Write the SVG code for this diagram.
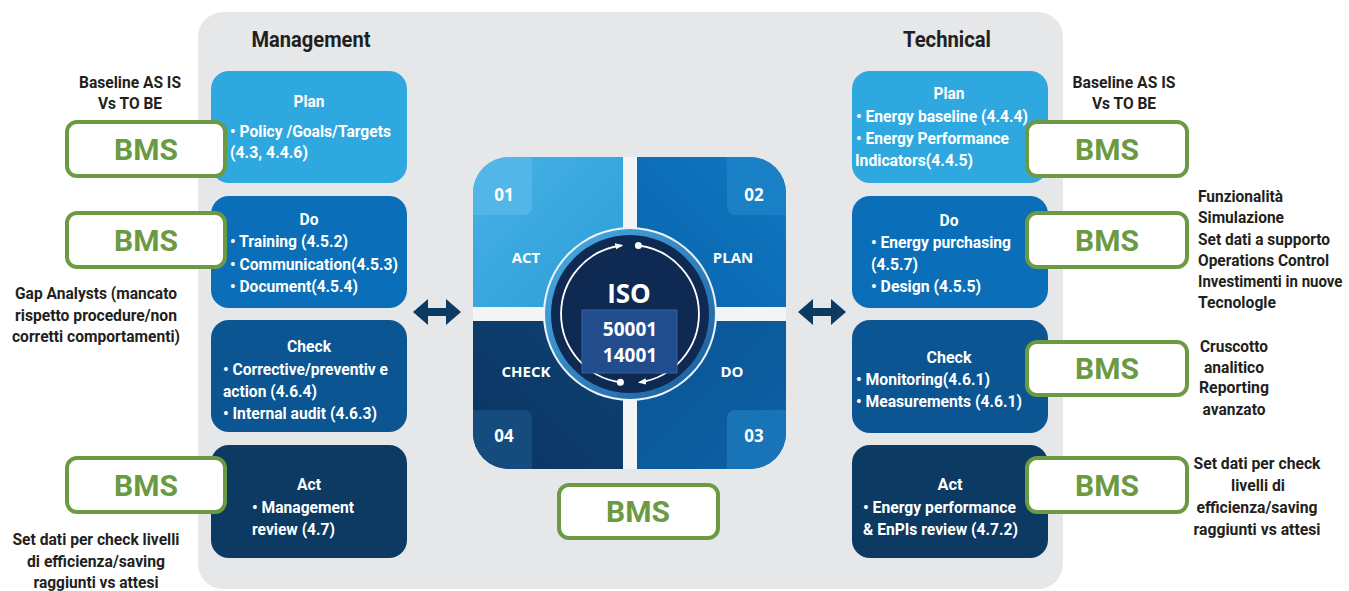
<svg xmlns="http://www.w3.org/2000/svg" width="1349" height="591" viewBox="0 0 1349 591">
  <style>
    text { font-family: Roboto, "Liberation Sans", sans-serif; font-weight: 700; }
    .box-title { font-size: 17px; fill: #ffffff; text-anchor: middle; }
    .box-line { font-size: 17px; fill: #ffffff; }
    .heading { font-size: 22px; fill: #231f20; text-anchor: middle; }
    .note { font-size: 16px; fill: #231f20; }
    .note-c { font-size: 16px; fill: #231f20; text-anchor: middle; }
    .bms-frame { fill: #ffffff; stroke: #6b9a42; stroke-width: 4; }
    .bms-label { font-size: 30px; fill: #6b9a42; text-anchor: middle; }
    .cyc { font-family: "Open Sans", "Liberation Sans", sans-serif; font-weight: 700; fill: #ffffff; text-anchor: middle; }
    .link { fill: #0d3a60; }
  </style>
  <defs>
    <clipPath id="cycleClip">
      <rect x="473" y="157" width="313" height="312" rx="36"/>
    </clipPath>
    <linearGradient id="gAct" x1="0" y1="0" x2="1" y2="1">
      <stop offset="0" stop-color="#47b1e4"/>
      <stop offset="1" stop-color="#2a9dd8"/>
    </linearGradient>
    <linearGradient id="gPlan" x1="1" y1="0" x2="0" y2="1">
      <stop offset="0" stop-color="#1079c2"/>
      <stop offset="1" stop-color="#0862ab"/>
    </linearGradient>
    <linearGradient id="gCheck" x1="0" y1="1" x2="1" y2="0">
      <stop offset="0" stop-color="#0b3563"/>
      <stop offset="1" stop-color="#0e4273"/>
    </linearGradient>
    <linearGradient id="gDo" x1="1" y1="1" x2="0" y2="0">
      <stop offset="0" stop-color="#0c62a6"/>
      <stop offset="1" stop-color="#0a5393"/>
    </linearGradient>
    <linearGradient id="gRing" x1="0" y1="0" x2="1" y2="1">
      <stop offset="0" stop-color="#4cb0e6"/>
      <stop offset="1" stop-color="#16599b"/>
    </linearGradient>
    <marker id="tip" viewBox="0 0 10 10" refX="8" refY="5" markerWidth="8" markerHeight="8" markerUnits="userSpaceOnUse" orient="auto">
      <path d="M0,1 L10,5 L0,9 z" fill="#ffffff"/>
    </marker>
  </defs>

  <!-- background panel -->
  <rect x="198" y="12" width="865" height="577" rx="25" fill="#e6e7e9"/>

  <!-- column headings -->
  <text class="heading" x="311" y="47" textLength="119" lengthAdjust="spacingAndGlyphs">Management</text>
  <text class="heading" x="947" y="47" textLength="88" lengthAdjust="spacingAndGlyphs">Technical</text>

  <!-- management column -->
  <g id="mgmt-plan">
    <rect x="211" y="71" width="196" height="112" rx="18" fill="#2fa8df"/>
    <text class="box-title" x="309" y="107" textLength="31" lengthAdjust="spacingAndGlyphs">Plan</text>
    <text class="box-line" x="230" y="137" textLength="161" lengthAdjust="spacingAndGlyphs">• Policy /Goals/Targets</text>
    <text class="box-line" x="230" y="158" textLength="78" lengthAdjust="spacingAndGlyphs">(4.3, 4.4.6)</text>
  </g>
  <g id="mgmt-do">
    <rect x="211" y="196" width="196" height="112" rx="18" fill="#0a6fb8"/>
    <text class="box-title" x="309" y="225" textLength="19" lengthAdjust="spacingAndGlyphs">Do</text>
    <text class="box-line" x="230" y="247" textLength="118" lengthAdjust="spacingAndGlyphs">• Training (4.5.2)</text>
    <text class="box-line" x="230" y="270" textLength="168" lengthAdjust="spacingAndGlyphs">• Communication(4.5.3)</text>
    <text class="box-line" x="230" y="292" textLength="128" lengthAdjust="spacingAndGlyphs">• Document(4.5.4)</text>
  </g>
  <g id="mgmt-check">
    <rect x="211" y="320" width="196" height="112" rx="18" fill="#0a5592"/>
    <text class="box-title" x="309" y="352" textLength="44" lengthAdjust="spacingAndGlyphs">Check</text>
    <text class="box-line" x="223" y="375" textLength="165" lengthAdjust="spacingAndGlyphs">• Corrective/preventiv e</text>
    <text class="box-line" x="223" y="397" textLength="94" lengthAdjust="spacingAndGlyphs">action (4.6.4)</text>
    <text class="box-line" x="223" y="419" textLength="154" lengthAdjust="spacingAndGlyphs">• Internal audit (4.6.3)</text>
  </g>
  <g id="mgmt-act">
    <rect x="211" y="445" width="196" height="113" rx="18" fill="#0c3a62"/>
    <text class="box-title" x="309" y="490" textLength="24" lengthAdjust="spacingAndGlyphs">Act</text>
    <text class="box-line" x="252" y="513" textLength="102" lengthAdjust="spacingAndGlyphs">• Management</text>
    <text class="box-line" x="252" y="535" textLength="83" lengthAdjust="spacingAndGlyphs">review (4.7)</text>
  </g>

  <!-- technical column -->
  <g id="tech-plan">
    <rect x="852" y="71" width="196" height="112" rx="18" fill="#2fa8df"/>
    <text class="box-title" x="949" y="99" textLength="31" lengthAdjust="spacingAndGlyphs">Plan</text>
    <text class="box-line" x="856" y="122" textLength="172" lengthAdjust="spacingAndGlyphs">• Energy baseline (4.4.4)</text>
    <text class="box-line" x="856" y="144" textLength="153" lengthAdjust="spacingAndGlyphs">• Energy Performance</text>
    <text class="box-line" x="855" y="166" textLength="118" lengthAdjust="spacingAndGlyphs">Indicators(4.4.5)</text>
  </g>
  <g id="tech-do">
    <rect x="852" y="196" width="196" height="112" rx="18" fill="#0a6fb8"/>
    <text class="box-title" x="949" y="226" textLength="19" lengthAdjust="spacingAndGlyphs">Do</text>
    <text class="box-line" x="871" y="248" textLength="140" lengthAdjust="spacingAndGlyphs">• Energy purchasing</text>
    <text class="box-line" x="871" y="270" textLength="47" lengthAdjust="spacingAndGlyphs">(4.5.7)</text>
    <text class="box-line" x="871" y="292" textLength="110" lengthAdjust="spacingAndGlyphs">• Design (4.5.5)</text>
  </g>
  <g id="tech-check">
    <rect x="852" y="320" width="196" height="113" rx="18" fill="#0a5592"/>
    <text class="box-title" x="949" y="363" textLength="45" lengthAdjust="spacingAndGlyphs">Check</text>
    <text class="box-line" x="856" y="385" textLength="134" lengthAdjust="spacingAndGlyphs">• Monitoring(4.6.1)</text>
    <text class="box-line" x="856" y="407" textLength="166" lengthAdjust="spacingAndGlyphs">• Measurements (4.6.1)</text>
  </g>
  <g id="tech-act">
    <rect x="852" y="445" width="196" height="113" rx="18" fill="#0c3a62"/>
    <text class="box-title" x="950" y="490" textLength="25" lengthAdjust="spacingAndGlyphs">Act</text>
    <text class="box-line" x="863" y="513" textLength="153" lengthAdjust="spacingAndGlyphs">• Energy performance</text>
    <text class="box-line" x="863" y="535" textLength="155" lengthAdjust="spacingAndGlyphs">&amp; EnPIs review (4.7.2)</text>
  </g>

  <!-- PDCA cycle in the middle -->
  <g id="iso-cycle">
    <g clip-path="url(#cycleClip)">
      <rect x="473" y="157" width="157" height="157" fill="url(#gAct)"/>
      <rect x="630" y="157" width="156" height="157" fill="url(#gPlan)"/>
      <rect x="473" y="314" width="157" height="155" fill="url(#gCheck)"/>
      <rect x="630" y="314" width="156" height="155" fill="url(#gDo)"/>
      <rect x="463" y="147" width="69" height="68" rx="8" fill="#52b6e8"/>
      <rect x="727" y="147" width="69" height="68" rx="8" fill="#1a80c6"/>
      <rect x="463" y="410" width="69" height="69" rx="8" fill="#164b7e"/>
      <rect x="727" y="410" width="69" height="69" rx="8" fill="#1873b7"/>
      <rect x="623" y="157" width="14" height="312" fill="#f3f4f5"/>
      <rect x="473" y="307" width="313" height="14" fill="#f3f4f5"/>
    </g>
    <text class="cyc" x="504" y="201" font-size="17">01</text>
    <text class="cyc" x="754" y="201" font-size="17">02</text>
    <text class="cyc" x="504" y="442" font-size="17">04</text>
    <text class="cyc" x="754" y="442" font-size="17">03</text>
    <text class="cyc" x="526" y="263" font-size="15">ACT</text>
    <text class="cyc" x="733" y="263" font-size="15">PLAN</text>
    <text class="cyc" x="526" y="377" font-size="15">CHECK</text>
    <text class="cyc" x="732" y="377" font-size="15">DO</text>

    <circle cx="630" cy="314" r="87" fill="#eef3f8"/>
    <circle cx="630" cy="314" r="85" fill="url(#gRing)"/>
    <circle cx="630" cy="314" r="79" fill="#0f2a52"/>
    <!-- inner loop: two arcs, each starting at a dot and ending in an arrowhead -->
    <path d="M638.4,245.5 A69,69 0 0 1 639.6,382.3" fill="none" stroke="#ffffff" stroke-width="1.8" marker-end="url(#tip)"/>
    <path d="M620.4,382.3 A69,69 0 0 1 621.6,245.5" fill="none" stroke="#ffffff" stroke-width="1.8" marker-end="url(#tip)"/>
    <circle cx="638.4" cy="245.5" r="3.5" fill="#ffffff"/>
    <circle cx="620.4" cy="382.3" r="3.5" fill="#ffffff"/>

    <text class="cyc" x="629" y="303" font-size="26">ISO</text>
    <rect x="582" y="310" width="95" height="63" fill="#224d8d" stroke="#3563a3" stroke-width="1"/>
    <text class="cyc" x="630" y="336" font-size="19" font-weight="600">50001</text>
    <text class="cyc" x="630" y="362" font-size="19" font-weight="600">14001</text>
  </g>

  <!-- two-way links between the columns and the cycle -->
  <g id="connectors">
    <polygon class="link" points="413,312 428,299 428,308 446,308 446,299 461,312 446,325 446,316 428,316 428,325"/>
    <polygon class="link" points="798,312 813,299 813,308 831,308 831,299 846,312 831,325 831,316 813,316 813,325"/>
  </g>

  <!-- BMS tags -->
  <g id="bms-mgmt-plan">
    <rect class="bms-frame" x="67" y="122" width="158" height="54" rx="10"/>
    <text class="bms-label" x="146" y="160">BMS</text>
  </g>
  <g id="bms-mgmt-do">
    <rect class="bms-frame" x="67" y="213" width="158" height="54" rx="10"/>
    <text class="bms-label" x="146" y="251">BMS</text>
  </g>
  <g id="bms-mgmt-act">
    <rect class="bms-frame" x="67" y="458" width="158" height="54" rx="10"/>
    <text class="bms-label" x="146" y="496">BMS</text>
  </g>
  <g id="bms-center">
    <rect class="bms-frame" x="559" y="485" width="159" height="53" rx="10"/>
    <text class="bms-label" x="638" y="522">BMS</text>
  </g>
  <g id="bms-tech-plan">
    <rect class="bms-frame" x="1027" y="122" width="160" height="54" rx="10"/>
    <text class="bms-label" x="1107" y="160">BMS</text>
  </g>
  <g id="bms-tech-do">
    <rect class="bms-frame" x="1027" y="213" width="160" height="54" rx="10"/>
    <text class="bms-label" x="1107" y="251">BMS</text>
  </g>
  <g id="bms-tech-check">
    <rect class="bms-frame" x="1027" y="342" width="160" height="53" rx="10"/>
    <text class="bms-label" x="1107" y="379">BMS</text>
  </g>
  <g id="bms-tech-act">
    <rect class="bms-frame" x="1027" y="458" width="160" height="54" rx="10"/>
    <text class="bms-label" x="1107" y="496">BMS</text>
  </g>

  <!-- side notes -->
  <g id="note-left-baseline">
    <text class="note-c" x="130" y="88" textLength="102" lengthAdjust="spacingAndGlyphs">Baseline AS IS</text>
    <text class="note-c" x="130" y="109" textLength="64" lengthAdjust="spacingAndGlyphs">Vs TO BE</text>
  </g>
  <g id="note-left-gap">
    <text class="note-c" x="96" y="299" textLength="162" lengthAdjust="spacingAndGlyphs">Gap Analysts (mancato</text>
    <text class="note-c" x="96" y="321" textLength="162" lengthAdjust="spacingAndGlyphs">rispetto procedure/non</text>
    <text class="note-c" x="96" y="342" textLength="168" lengthAdjust="spacingAndGlyphs">corretti comportamenti)</text>
  </g>
  <g id="note-left-set">
    <text class="note-c" x="96" y="545" textLength="167" lengthAdjust="spacingAndGlyphs">Set dati per check livelli</text>
    <text class="note-c" x="96" y="567" textLength="138" lengthAdjust="spacingAndGlyphs">di efficienza/saving</text>
    <text class="note-c" x="96" y="588" textLength="125" lengthAdjust="spacingAndGlyphs">raggiunti vs attesi</text>
  </g>
  <g id="note-right-baseline">
    <text class="note-c" x="1124" y="88" textLength="103" lengthAdjust="spacingAndGlyphs">Baseline AS IS</text>
    <text class="note-c" x="1124" y="109" textLength="64" lengthAdjust="spacingAndGlyphs">Vs TO BE</text>
  </g>
  <g id="note-right-func">
    <text class="note" x="1198" y="202" textLength="85" lengthAdjust="spacingAndGlyphs">Funzionalità</text>
    <text class="note" x="1198" y="223" textLength="86" lengthAdjust="spacingAndGlyphs">Simulazione</text>
    <text class="note" x="1198" y="245" textLength="132" lengthAdjust="spacingAndGlyphs">Set dati a supporto</text>
    <text class="note" x="1198" y="266" textLength="131" lengthAdjust="spacingAndGlyphs">Operations Control</text>
    <!-- narrowed with a horizontal scale so the line stays inside the canvas -->
    <text class="note" x="0" y="0" transform="translate(1198 287) scale(0.84 1)" textLength="172" lengthAdjust="spacingAndGlyphs">Investimenti in nuove</text>
    <text class="note" x="1198" y="308" textLength="78" lengthAdjust="spacingAndGlyphs">Tecnologle</text>
  </g>
  <g id="note-right-dash">
    <text class="note-c" x="1234" y="352" textLength="68" lengthAdjust="spacingAndGlyphs">Cruscotto</text>
    <text class="note-c" x="1234" y="373" textLength="60" lengthAdjust="spacingAndGlyphs">analitico</text>
    <text class="note-c" x="1234" y="393" textLength="70" lengthAdjust="spacingAndGlyphs">Reporting</text>
    <text class="note-c" x="1234" y="415" textLength="63" lengthAdjust="spacingAndGlyphs">avanzato</text>
  </g>
  <g id="note-right-set">
    <text class="note-c" x="1257" y="469" textLength="127" lengthAdjust="spacingAndGlyphs">Set dati per check</text>
    <text class="note-c" x="1258" y="491" textLength="54" lengthAdjust="spacingAndGlyphs">livelli di</text>
    <text class="note-c" x="1257" y="513" textLength="121" lengthAdjust="spacingAndGlyphs">efficienza/saving</text>
    <text class="note-c" x="1257" y="535" textLength="127" lengthAdjust="spacingAndGlyphs">raggiunti vs attesi</text>
  </g>
</svg>
